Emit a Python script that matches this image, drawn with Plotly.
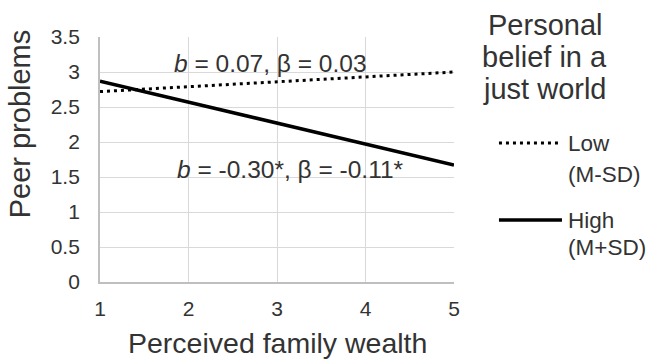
import plotly.graph_objects as go

# Simple slopes of peer problems on perceived family wealth
wealth = [1, 5]
low_pbjw = [2.72, 3.00]    # Low (M-SD)
high_pbjw = [2.87, 1.67]   # High (M+SD)

legend_title = ["Personal", "belief in a", "just world"]
series_labels = [["Low", "(M-SD)"], ["High", "(M+SD)"]]
y_ticks = [0, 0.5, 1, 1.5, 2, 2.5, 3, 3.5]
x_ticks = [1, 2, 3, 4, 5]
x_title = "Perceived family wealth"
y_title = "Peer problems"

FONT = "Liberation Sans, Arial, sans-serif"
TXT = "#333333"

LOW_LINE = dict(color="black", width=3, dash="3px,4px")
HIGH_LINE = dict(color="black", width=3.5)

fig = go.Figure()
fig.add_trace(go.Scatter(x=wealth, y=low_pbjw, mode="lines", line=LOW_LINE,
                         name="Low (M-SD)", showlegend=False))
fig.add_trace(go.Scatter(x=wealth, y=high_pbjw, mode="lines", line=HIGH_LINE,
                         name="High (M+SD)", showlegend=False))

# slope labels
fig.add_annotation(x=2.93, y=3.12, text="<i>b</i> = 0.07, β = 0.03",
                   showarrow=False, font=dict(size=24.5, color=TXT, family=FONT))
fig.add_annotation(x=3.15, y=1.61, text="<i>b</i> = -0.30*, β = -0.11*",
                   showarrow=False, font=dict(size=24.5, color=TXT, family=FONT))

# axis titles
fig.add_annotation(xref="paper", yref="paper", x=0.5, y=-0.248, text=x_title,
                   showarrow=False, xanchor="center", yanchor="middle",
                   font=dict(size=28.5, color=TXT, family=FONT))
fig.add_annotation(xref="paper", yref="paper", x=-0.225, y=0.645, text=y_title,
                   showarrow=False, xanchor="center", yanchor="middle", textangle=-90,
                   font=dict(size=29, color=TXT, family=FONT))

# legend drawn to the right of the plot area
for txt, yy in zip(legend_title, [1.049, 0.918, 0.788]):
    fig.add_annotation(xref="paper", yref="paper", x=1.257, y=yy, text=txt,
                       showarrow=False, xanchor="center", yanchor="middle",
                       font=dict(size=29, color=TXT, family=FONT))

key_rows = [(0.567, 0.437, LOW_LINE), (0.253, 0.139, HIGH_LINE)]
for (y1, y2, ln), (l1, l2) in zip(key_rows, series_labels):
    fig.add_shape(type="line", xref="paper", yref="paper",
                  x0=1.127, x1=1.305, y0=y1, y1=y1, line=ln)
    fig.add_annotation(xref="paper", yref="paper", x=1.316, y=y1, text=l1,
                       showarrow=False, xanchor="left", yanchor="middle",
                       font=dict(size=22.5, color=TXT, family=FONT))
    fig.add_annotation(xref="paper", yref="paper", x=1.316, y=y2, text=l2,
                       showarrow=False, xanchor="left", yanchor="middle",
                       font=dict(size=22.5, color=TXT, family=FONT))

fig.update_layout(
    width=646, height=361,
    margin=dict(l=100, r=192, t=37, b=79, autoexpand=False),
    paper_bgcolor="white", plot_bgcolor="white",
    font=dict(family=FONT, color=TXT),
    showlegend=False,
    xaxis=dict(
        range=[1, 5], tickvals=x_ticks, showgrid=True, gridcolor="#d9d9d9",
        showline=True, linecolor="#bfbfbf", linewidth=1.8, zeroline=False,
        tickfont=dict(size=21, color=TXT), ticks="", ticklabelstandoff=7,
    ),
    yaxis=dict(
        range=[0, 3.5], tickvals=y_ticks, showgrid=True, gridcolor="#d9d9d9",
        showline=True, linecolor="#bfbfbf", linewidth=1.8, zeroline=False,
        tickfont=dict(size=21, color=TXT), ticks="", ticklabelstandoff=14,
    ),
)

fig.write_html("out.html")
